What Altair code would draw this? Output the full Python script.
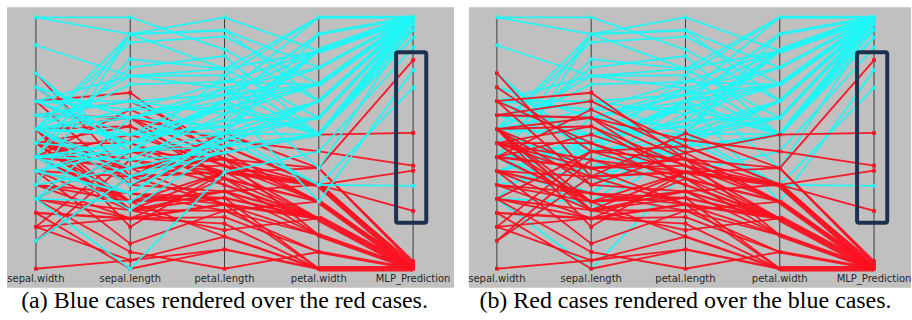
import altair as alt
import pandas as pd

AXES = ["sepal.width", "sepal.length", "petal.length", "petal.width", "MLP_Prediction"]

# red cases
red_sepal_length = [7.0, 6.4, 6.9, 5.5, 6.5, 5.7, 6.3, 4.9, 6.6, 5.2, 5.0, 5.9, 6.0, 6.1, 5.6, 6.7, 5.6, 5.8, 6.2, 5.6,
                    5.9, 6.1, 6.3, 6.1, 6.4, 6.6, 6.8, 6.7, 6.0, 5.7, 5.5, 5.5, 5.8, 6.0, 5.4, 6.0, 6.7, 6.3, 5.6, 5.5,
                    5.5, 6.1, 5.8, 5.0, 5.6, 5.7, 5.7, 6.2, 5.1, 5.7]
red_sepal_width = [3.2, 3.2, 3.1, 2.3, 2.8, 2.8, 3.3, 2.4, 2.9, 2.7, 2.0, 3.0, 2.2, 2.9, 2.9, 3.1, 3.0, 2.7, 2.2, 2.5,
                   3.2, 2.8, 2.5, 2.8, 2.9, 3.0, 2.8, 3.0, 2.9, 2.6, 2.4, 2.4, 2.7, 2.7, 3.0, 3.4, 3.1, 2.3, 3.0, 2.5,
                   2.6, 3.0, 2.6, 2.3, 2.7, 3.0, 2.9, 2.9, 2.5, 2.8]
red_petal_length = [4.7, 4.5, 4.9, 4.0, 4.6, 4.5, 4.7, 3.3, 4.6, 3.9, 3.5, 4.2, 4.0, 4.7, 3.6, 4.4, 4.5, 4.1, 4.5, 3.9,
                    4.8, 4.0, 4.9, 4.7, 4.3, 4.4, 4.8, 5.0, 4.5, 3.5, 3.8, 3.7, 3.9, 5.1, 4.5, 4.5, 4.7, 4.4, 4.1, 4.0,
                    4.4, 4.6, 4.0, 3.3, 4.2, 4.2, 4.2, 4.3, 3.0, 4.1]
red_petal_width = [1.4, 1.5, 1.5, 1.3, 1.5, 1.3, 1.6, 1.0, 1.3, 1.4, 1.0, 1.5, 1.0, 1.4, 1.3, 1.4, 1.5, 1.0, 1.5, 1.1,
                   1.8, 1.3, 1.5, 1.2, 1.3, 1.4, 1.4, 1.7, 1.5, 1.0, 1.1, 1.0, 1.2, 1.6, 1.5, 1.6, 1.5, 1.3, 1.3, 1.3,
                   1.2, 1.4, 1.2, 1.0, 1.3, 1.2, 1.3, 1.3, 1.1, 1.3]
red_mlp = [0.0, 0.0, 0.39, 0.0, 0.0, 0.0, 0.03, 0.0, 0.0, 0.0, 0.0, 0.0, 0.0, 0.0, 0.0, 0.0, 0.0, 0.0, 0.02, 0.0,
           0.54, 0.0, 0.23, 0.0, 0.0, 0.0, 0.01, 0.41, 0.0, 0.0, 0.0, 0.0, 0.0, 0.83, 0.0, 0.02, 0.0, 0.0, 0.0, 0.0,
           0.0, 0.0, 0.0, 0.0, 0.0, 0.0, 0.0, 0.0, 0.0, 0.0]

# blue cases
blue_sepal_length = [6.3, 5.8, 7.1, 6.3, 6.5, 7.6, 4.9, 7.3, 6.7, 7.2, 6.5, 6.4, 6.8, 5.7, 5.8, 6.4, 6.5, 7.7, 7.7, 6.0,
                     6.9, 5.6, 7.7, 6.3, 6.7, 7.2, 6.2, 6.1, 6.4, 7.2, 7.4, 7.9, 6.4, 6.3, 6.1, 7.7, 6.3, 6.4, 6.0, 6.9,
                     6.7, 6.9, 5.8, 6.8, 6.7, 6.7, 6.3, 6.5, 6.2, 5.9]
blue_sepal_width = [3.3, 2.7, 3.0, 2.9, 3.0, 3.0, 2.5, 2.9, 2.5, 3.6, 3.2, 2.7, 3.0, 2.5, 2.8, 3.2, 3.0, 3.8, 2.6, 2.2,
                    3.2, 2.8, 2.8, 2.7, 3.3, 3.2, 2.8, 3.0, 2.8, 3.0, 2.8, 3.8, 2.8, 2.8, 2.6, 3.0, 3.4, 3.1, 3.0, 3.1,
                    3.1, 3.1, 2.7, 3.2, 3.3, 3.0, 2.5, 3.0, 3.4, 3.0]
blue_petal_length = [6.0, 5.1, 5.9, 5.6, 5.8, 6.6, 4.5, 6.3, 5.8, 6.1, 5.1, 5.3, 5.5, 5.0, 5.1, 5.3, 5.5, 6.7, 6.9, 5.0,
                     5.7, 4.9, 6.7, 4.9, 5.7, 6.0, 4.8, 4.9, 5.6, 5.8, 6.1, 6.4, 5.6, 5.1, 5.6, 6.1, 5.6, 5.5, 4.8, 5.4,
                     5.6, 5.1, 5.1, 5.9, 5.7, 5.2, 5.0, 5.2, 5.4, 5.1]
blue_petal_width = [2.5, 1.9, 2.1, 1.8, 2.2, 2.1, 1.7, 1.8, 1.8, 2.5, 2.0, 1.9, 2.1, 2.0, 2.4, 2.3, 1.8, 2.2, 2.3, 1.5,
                    2.3, 2.0, 2.0, 1.8, 2.1, 1.8, 1.8, 1.8, 2.1, 1.6, 1.9, 2.0, 2.2, 1.5, 1.4, 2.3, 2.4, 1.8, 1.8, 2.1,
                    2.4, 2.3, 1.9, 2.3, 2.5, 2.3, 1.9, 2.0, 2.3, 1.8]
blue_mlp = [1.0, 0.99, 1.0, 0.99, 1.0, 1.0, 0.88, 1.0, 1.0, 1.0, 0.99, 0.99, 1.0, 1.0, 1.0, 1.0, 0.99, 1.0, 1.0, 0.33,
            1.0, 0.99, 1.0, 0.95, 1.0, 0.99, 0.92, 0.95, 1.0, 0.97, 1.0, 1.0, 1.0, 0.72, 0.79, 1.0, 1.0, 0.99, 0.92, 1.0,
            1.0, 1.0, 0.99, 1.0, 1.0, 1.0, 1.0, 1.0, 1.0, 0.97]

# highlighted range on the MLP_Prediction axis
box_low, box_high = [0.183], [0.861]

captions = ["(a) Blue cases rendered over the red cases.", "(b) Red cases rendered over the blue cases."]

RED = "#fb1020"
CYAN = "#1ef6f6"

red_cols = [red_sepal_width, red_sepal_length, red_petal_length, red_petal_width, red_mlp]
blue_cols = [blue_sepal_width, blue_sepal_length, blue_petal_length, blue_petal_width, blue_mlp]

ranges = []
for i in range(4):
    vals = red_cols[i] + blue_cols[i]
    ranges.append((min(vals), max(vals)))
ranges.append((0.0, 1.0))


def norm(cols):
    return [[(v - ranges[i][0]) / (ranges[i][1] - ranges[i][0]) for v in col] for i, col in enumerate(cols)]


def tables(cols):
    n = norm(cols)
    segs = []
    for i in range(4):
        counts = {}
        for a, b in zip(n[i], n[i + 1]):
            k = (round(a, 6), round(b, 6))
            counts[k] = counts.get(k, 0) + 1
        for (a, b), c in counts.items():
            segs.append({"x": i, "x2": i + 1, "y": a, "y2": b, "w": min(1.8 + 0.6 * (c - 1), 6.5)})
    segs.sort(key=lambda r: r["w"])
    pts = set()
    for i in range(5):
        for v in n[i]:
            pts.add((i, round(v, 6)))
    pts = [{"x": i, "y": v} for i, v in pts]
    return pd.DataFrame(segs), pd.DataFrame(pts)


red_segs, red_pts = tables(red_cols)
blue_segs, blue_pts = tables(blue_cols)

axes_df = pd.DataFrame({"x": list(range(5)), "y": [0.0] * 5, "y2": [1.0] * 5, "label": AXES, "ly": [-0.04] * 5})
box_df = pd.DataFrame({"x": [4 - 0.18], "x2": [4 + 0.14], "y": box_low, "y2": box_high})

YDOM = [-0.0754, 1.0397]


def panel(order, xdom, width, caption):
    X = alt.X("x:Q", scale=alt.Scale(domain=xdom), axis=None)
    Y = alt.Y("y:Q", scale=alt.Scale(domain=YDOM), axis=None)
    axes = alt.Chart(axes_df).mark_rule(color="#3a3a3a", strokeWidth=1).encode(x=X, y=Y, y2="y2:Q")
    labels = alt.Chart(axes_df).mark_text(font="DejaVu Sans", fontSize=10, color="#262626",
                                          baseline="middle").encode(
        x=X, y=alt.Y("ly:Q", scale=alt.Scale(domain=YDOM), axis=None), text="label:N")
    layers = [axes, labels]
    for segs, pts, col in order:
        layers.append(alt.Chart(segs).mark_rule(color=col, opacity=0.95).encode(
            x=X, x2="x2:Q", y=Y, y2="y2:Q", size=alt.Size("w:Q", scale=None, legend=None)))
        layers.append(alt.Chart(pts).mark_square(color=col, size=14, opacity=1).encode(x=X, y=Y))
    box = alt.Chart(box_df).mark_rect(fillOpacity=0, stroke="#1d3050", strokeWidth=4, cornerRadius=2).encode(
        x=X, x2="x2:Q", y=Y, y2="y2:Q")
    layers.append(box)
    cap_df = pd.DataFrame({"x": [2.0], "y": [-0.155], "t": [caption]})
    cap = alt.Chart(cap_df).mark_text(font="Liberation Serif", fontSize=24, color="black", align="center",
                                      baseline="alphabetic").encode(x=X, y=Y, text="t:N")
    layers.append(cap)
    return alt.layer(*layers).properties(width=width, height=281)


pa = panel([(red_segs, red_pts, RED), (blue_segs, blue_pts, CYAN)], [-0.307, 4.434], 448, captions[0])
pb = panel([(blue_segs, blue_pts, CYAN), (red_segs, red_pts, RED)], [-0.296, 4.392], 443, captions[1])

chart = alt.hconcat(pa, pb, spacing=14).properties(
    padding={"left": 7, "top": 7, "right": 0, "bottom": 0}
).configure_view(fill="#c0c0c0", strokeWidth=0)

chart.save("out.html", embed_options={"renderer": "svg", "actions": False})
